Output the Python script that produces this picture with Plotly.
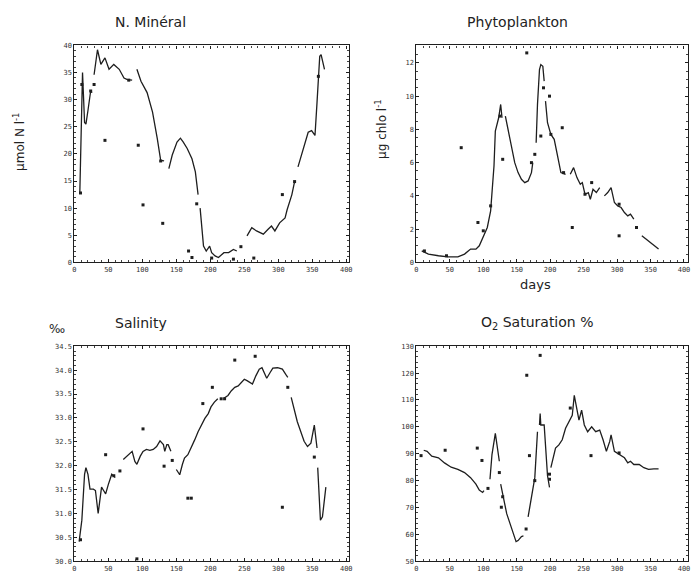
import plotly.graph_objects as go

# ---------------- data ----------------
# N. Mineral (µmol N l-1)
n_line_day = [8, 12, 15, 17, 20, 24, 26, None, 29, 34, 39, 45, 51, 58, 66, 73, 78, 85, None,
              92, 98, 107, 115, 122, 127, 132, None, 139, 144, 151, 156, 160, 166, 173, 178, 182, None,
              185, 190, 194, 199, 202, 207, 212, 220, 227, 234, 239, None,
              254, 261, 268, 278, 285, 290, 295, 302, 310, 313, 320, 324, None,
              329, 337, 344, 349, 354, 357, 359, 361, 363, 368]
n_line_val = [12.8, 35.0, 25.8, 25.5, 28.0, 31.6, 31.3, None, 34.6, 39.2, 36.5, 37.7, 35.6, 36.5, 35.6, 34.0, 33.7, 33.6, None,
              35.6, 33.4, 31.3, 27.7, 22.8, 18.8, 18.7, None, 17.3, 19.8, 22.2, 22.9, 22.2, 21.0, 19.1, 16.7, 12.5, None,
              10.0, 3.0, 2.1, 3.0, 1.8, 1.2, 0.9, 1.8, 1.8, 2.4, 2.1, None,
              4.9, 6.4, 5.8, 5.2, 6.1, 6.7, 5.8, 7.3, 8.2, 9.7, 12.5, 14.9, None,
              17.6, 21.0, 24.0, 24.3, 23.4, 29.5, 34.3, 38.0, 38.3, 35.6]
n_dot_day = [9, 11, 24, 29, 45, 80, 94, 101, 127, 130, 168, 173, 180, 202, 234, 245, 264, 306, 324, 359]
n_dot_val = [12.8, 32.8, 31.6, 32.8, 22.5, 33.6, 21.6, 10.6, 18.7, 7.2, 2.1, 0.9, 10.8, 0.8, 0.6, 2.9, 0.8, 12.5, 14.9, 34.3]

# Phytoplankton (µg chlo l-1)
p_line_day = [8, 18, 33, 47, 62, 72, 81, 89, 94, 101, 106, 111, 113, 116, 118, 120, 123, 126, 128, None,
              133, 138, 142, 147, 152, 157, 162, 167, 172, 174, None,
              179, 181, 184, 186, 189, 191, None,
              193, 196, 201, 206, 211, 216, 223, None,
              230, 235, 240, 245, 248, 252, 257, 260, 264, 269, 274, None,
              281, 286, 291, 296, 301, 306, 311, 316, 320, 325, None,
              337, 350, 362]
p_line_val = [0.69, 0.5, 0.4, 0.33, 0.33, 0.5, 0.8, 0.8, 1.0, 1.6, 2.1, 3.1, 4.4, 5.8, 7.9, 8.2, 8.7, 9.5, 8.7, None,
              8.8, 7.8, 6.8, 6.0, 5.4, 5.0, 4.8, 4.9, 5.4, 6.0, None,
              7.2, 9.5, 11.6, 11.9, 11.8, 10.9, None,
              9.7, 8.4, 7.7, 7.4, 6.4, 5.4, 5.3, None,
              5.3, 5.7, 5.1, 4.7, 4.8, 4.1, 4.2, 3.8, 4.4, 4.2, 4.5, None,
              4.0, 4.2, 4.5, 3.6, 3.4, 3.3, 3.0, 2.8, 2.9, 2.6, None,
              1.6, 1.2, 0.8]
p_dot_day = [12, 45, 67, 92, 100, 111, 125, 129, 165, 172, 177, 186, 190, 199, 201, 218, 220, 233, 252, 262, 303, 303, 329]
p_dot_val = [0.69, 0.4, 6.9, 2.4, 1.9, 3.4, 8.8, 6.2, 12.6, 6.0, 6.5, 7.6, 10.5, 10.0, 7.7, 8.1, 5.4, 2.1, 4.1, 4.8, 3.5, 1.6, 2.1]

# Salinity (‰)
s_line_day = [7, 11, 15, 17, 20, 23, 28, 31, 35, 38, 40, 43, 46, 50, 55, 60, None,
              72, 77, 82, 85, 89, 92, 97, 101, 106, 111, 116, 121, 126, 131, 133, 136, 138, 142, None,
              150, 155, 159, 162, 167, 172, 177, 182, 187, 192, 197, 201, 206, 211, None,
              220, 226, 231, 236, 241, 245, 250, 254, 258, 262, 267, 272, 276, 280, 283, 288, 292, 299, 306, 311, 314, None,
              319, 328, 338, 343, 348, 353, 357, None,
              358, 360, 362, 365, 370]
s_line_val = [30.41, 30.86, 31.82, 31.96, 31.82, 31.51, 31.51, 31.48, 31.0, 31.27, 31.55, 31.48, 31.41, 31.61, 31.82, 31.75, None,
              32.13, 32.2, 32.27, 32.3, 32.09, 32.03, 32.2, 32.3, 32.34, 32.32, 32.34, 32.4, 32.52, 32.44, 32.3, 32.44, 32.44, 32.3, None,
              31.92, 31.81, 32.03, 32.16, 32.23, 32.37, 32.54, 32.71, 32.85, 32.99, 33.09, 33.23, 33.33, 33.4, None,
              33.41, 33.47, 33.57, 33.64, 33.67, 33.74, 33.81, 33.78, 33.74, 33.71, 33.88, 34.02, 34.05, 33.91, 33.83, 33.95, 34.04, 34.05, 34.02, 33.91, 33.85, None,
              33.43, 32.92, 32.51, 32.4, 32.47, 32.85, 32.37, None,
              31.96, 31.27, 30.86, 30.93, 31.55]
s_dot_day = [9, 46, 58, 67, 92, 101, 132, 144, 167, 172, 189, 203, 216, 221, 236, 266, 306, 314, 353]
s_dot_val = [30.45, 32.23, 31.79, 31.89, 30.05, 32.77, 31.99, 32.11, 31.32, 31.32, 33.3, 33.64, 33.4, 33.4, 34.21, 34.29, 31.13, 33.64, 32.18]

# O2 saturation (%)
o_line_day = [11, 16, 23, 33, 42, 52, 62, 72, 81, 89, 94, 99, 101, None,
              110, 113, 118, 120, 123, 124, None,
              126, 130, 135, 140, 145, 149, 152, 157, 160, None,
              167, 172, 177, 181, None,
              184, 185, 186, 191, 196, 199, None,
              201, 203, 208, 213, 218, 223, 228, 233, 236, 240, 243, 247, 251, 256, 262, 268, 274, 279, 284, 289, 291, 296,
              303, 311, 316, 320, 325, 333, 340, 347, 355, 362]
o_line_val = [91.3, 90.9, 89.1, 88.5, 86.6, 85.0, 84.2, 83.0, 81.1, 78.7, 76.5, 75.6, 76.3, None,
              80.5, 89.7, 97.6, 94.6, 88.5, 87.2, None,
              78.7, 73.8, 67.7, 64.0, 59.8, 57.3, 57.7, 59.2, 59.4, None,
              66.5, 73.8, 81.1, 98.2, None,
              100.7, 105.0, 100.7, 100.7, 81.8, 77.5, None,
              84.8, 87.2, 92.1, 93.3, 95.2, 99.5, 101.9, 104.3, 111.7, 105.6, 102.5, 106.2, 100.7, 98.2, 100.0, 98.2, 98.8, 95.2, 90.9, 94.6, 97.0, 90.9,
              89.7, 88.5, 86.6, 87.2, 86.0, 86.0, 84.8, 84.2, 84.4, 84.4]
o_dot_day = [7, 43, 91, 98, 107, 124, 127, 129, 164, 165, 169, 177, 185, 199, 199, 230, 261, 303]
o_dot_val = [89.3, 91.3, 92.1, 87.5, 77.1, 83.0, 70.1, 74.0, 62.0, 119.2, 89.3, 80.0, 126.6, 82.4, 80.5, 107.0, 89.3, 90.3]

x_ticks = [0, 50, 100, 150, 200, 250, 300, 350, 400]

# ---------------- figure ----------------
W, H = 693, 583
INK = "#1e1e1e"

def px_x(a, b):
    return [a / W, b / W]

def px_y(top, bottom):
    return [1 - bottom / H, 1 - top / H]

fig = go.Figure()

panels = [
    ("x", "y", n_line_day, n_line_val, n_dot_day, n_dot_val),
    ("x2", "y2", p_line_day, p_line_val, p_dot_day, p_dot_val),
    ("x3", "y3", s_line_day, s_line_val, s_dot_day, s_dot_val),
    ("x4", "y4", o_line_day, o_line_val, o_dot_day, o_dot_val),
]
for xa, ya, ld, lv, dd, dv in panels:
    fig.add_trace(go.Scatter(x=ld, y=lv, mode="lines", xaxis=xa, yaxis=ya,
                             line=dict(color=INK, width=1.3), connectgaps=False,
                             showlegend=False, hoverinfo="skip"))
    fig.add_trace(go.Scatter(x=dd, y=dv, mode="markers", xaxis=xa, yaxis=ya,
                             marker=dict(color=INK, size=3, symbol="square"),
                             showlegend=False, cliponaxis=False))

tickfont = dict(family="DejaVu Sans Mono, monospace", size=7, color="#333")

def xaxis(domain, anchor, rng):
    return dict(domain=domain, anchor=anchor, range=rng, tickvals=x_ticks,
                showgrid=False, zeroline=False, showline=True, linecolor=INK, linewidth=1.2,
                mirror="ticks", ticks="inside", ticklen=3, tickcolor=INK,
                minor=dict(ticks="inside", ticklen=2, dtick=10, tickcolor="#444"),
                tickfont=tickfont)

def yaxis(domain, anchor, rng, dtick, fmt, minor_dtick):
    return dict(domain=domain, anchor=anchor, range=rng, dtick=dtick, tick0=rng[0],
                tickformat=fmt, showgrid=False, zeroline=False, showline=True,
                linecolor=INK, linewidth=1.2, mirror="ticks", ticks="inside", ticklen=3,
                tickcolor=INK, minor=dict(ticks="inside", ticklen=2, dtick=minor_dtick, tickcolor="#444"),
                tickfont=tickfont)

top_y = px_y(42, 262)
bot_y = px_y(347, 565)
left_x = px_x(73, 350)
right_x = px_x(418, 692)

fig.update_layout(
    width=W, height=H, margin=dict(l=0, r=0, t=0, b=0),
    paper_bgcolor="white", plot_bgcolor="white",
    xaxis=xaxis(left_x, "y", [0, 404]),
    yaxis=yaxis(top_y, "x", [0, 40], 5, "d", 1),
    xaxis2=xaxis(right_x, "y2", [0, 406]),
    yaxis2=yaxis(top_y, "x2", [0, 13.05], 2, "d", 0.5),
    xaxis3=xaxis(left_x, "y3", [0, 404]),
    yaxis3=yaxis(bot_y, "x3", [30, 34.5], 0.5, ".1f", 0.1),
    xaxis4=xaxis(right_x, "y4", [0, 406]),
    yaxis4=yaxis(bot_y, "x4", [50, 130], 10, "d", 2),
)

def ann(text, x, y, size=14, angle=0):
    return dict(text=text, x=x / W, y=1 - y / H, xref="paper", yref="paper",
                showarrow=False, textangle=angle, xanchor="center", yanchor="middle",
                font=dict(family="DejaVu Sans, sans-serif", size=size, color="#222"))

fig.update_layout(annotations=[
    ann("N. Minéral", 150, 18),
    ann("Phytoplankton", 520, 18),
    ann("Salinity", 140, 323),
    ann("O<sub>2</sub> Saturation %", 540, 323),
    ann("days", 538, 284, size=13),
    ann("‰", 55, 330, size=12),
    ann("μmol N l<sup>-1</sup>", 17, 140, size=12, angle=-90),
    ann("μg chlo l<sup>-1</sup>", 383, 127, size=12, angle=-90),
])

fig.write_html("out.html")
